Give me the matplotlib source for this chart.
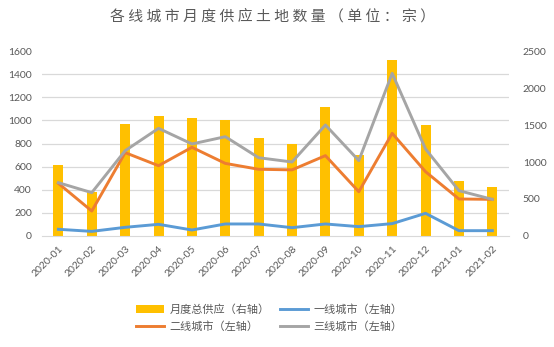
import numpy as np
import matplotlib
matplotlib.use('Agg')
import matplotlib.pyplot as plt

plt.rcParams['font.family'] = ['Lato', 'Noto Sans CJK SC', 'DejaVu Sans']

# data
months = ['2020-01', '2020-02', '2020-03', '2020-04', '2020-05', '2020-06', '2020-07',
          '2020-08', '2020-09', '2020-10', '2020-11', '2020-12', '2021-01', '2021-02']
total = [960, 600, 1515, 1620, 1595, 1570, 1325, 1250, 1745, 1090, 2380, 1500, 745, 660]
tier1 = [58, 40, 75, 101, 52, 104, 104, 72, 104, 81, 107, 196, 46, 46]
tier2 = [455, 216, 721, 608, 767, 628, 577, 572, 695, 383, 888, 556, 320, 317]
tier3 = [461, 375, 738, 931, 796, 859, 677, 640, 960, 652, 1407, 752, 392, 317]

title = '各线城市月度供应土地数量（单位：宗）'
lbl_total = '月度总供应（右轴）'
lbl_t1 = '一线城市（左轴）'
lbl_t2 = '二线城市（左轴）'
lbl_t3 = '三线城市（左轴）'

TXT = '#595959'
GRID = '#d9d9d9'

fig = plt.figure(figsize=(5.54, 3.47), dpi=100)
# bottom axes: bars on the right-hand scale
ax = fig.add_axes([0.0753, 0.3199, 0.8435, 0.5331])
ax2 = ax.twinx()

x = np.arange(len(months))
bars = ax.bar(x, total, width=0.3, color='#FFC000', zorder=2, label=lbl_total)
ax.set_ylim(0, 2500)
ax.set_xlim(-0.5, len(months) - 0.5)
ax.set_yticks(np.arange(0, 2501, 500))
# gridlines follow the left scale (0-1600 step 200)
ax.set_yticks(np.linspace(0, 2500, 9), minor=True)
ax.yaxis.grid(True, which='minor', color=GRID, linewidth=0.9, zorder=0)
ax.set_axisbelow(True)
ax.yaxis.tick_right()
ax.tick_params(axis='y', which='both', length=0, labelsize=7.5, labelcolor=TXT, pad=10)

l1, = ax2.plot(x, tier1, color='#5B9BD5', lw=2.1, label=lbl_t1)
l2, = ax2.plot(x, tier2, color='#ED7D31', lw=2.1, label=lbl_t2)
l3, = ax2.plot(x, tier3, color='#A5A5A5', lw=2.1, label=lbl_t3)
ax2.set_ylim(0, 1600)
ax2.set_yticks(np.arange(0, 1601, 200))
ax2.yaxis.tick_left()
ax2.tick_params(axis='y', length=0, labelsize=7.5, labelcolor=TXT, pad=7)

ax.set_xticks(x)
ax.set_xticklabels(months, rotation=45, ha='right', rotation_mode='anchor')
ax.tick_params(axis='x', length=0, labelsize=7.5, labelcolor=TXT, pad=6)

for a in (ax, ax2):
    for s in a.spines.values():
        s.set_visible(False)
ax.spines['bottom'].set_visible(True)
ax.spines['bottom'].set_color(GRID)

fig.text(0.492, 0.953, ' '.join(title), ha='center', va='center', fontsize=10.7,
         color=TXT, family=['Noto Sans CJK SC', 'DejaVu Sans'])

handles = [bars, l2, l1, l3]
fig.legend(handles, [h.get_label() for h in handles], ncol=2, loc='center',
           bbox_to_anchor=(0.486, 0.0836), frameon=False,
           labelcolor=TXT, handlelength=2.5, handletextpad=0.5, columnspacing=0.9,
           labelspacing=0.5, prop={'family': ['Noto Sans CJK SC', 'DejaVu Sans'], 'size': 8})

fig.savefig('out.png', dpi=100)
